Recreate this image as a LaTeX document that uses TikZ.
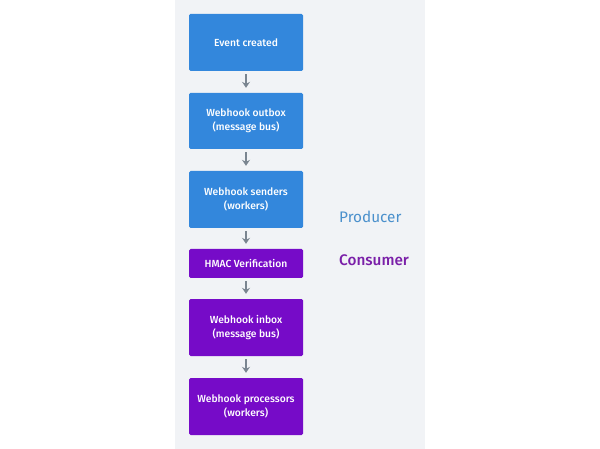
\documentclass[tikz,border=0pt]{standalone}
\usepackage{fontspec}
\setmainfont{Fira Sans}[BoldFont={Fira Sans Medium}]
\usetikzlibrary{arrows.meta}
\usepackage{xcolor}
\definecolor{panelgray}{HTML}{F1F3F6}
\definecolor{prodblue}{HTML}{3387DC}
\definecolor{consviolet}{HTML}{760BC8}
\definecolor{arrowgray}{HTML}{7A8590}
\definecolor{prodtext}{HTML}{4A90CC}
\definecolor{constext}{HTML}{7A1FA8}

\tikzset{
  stepbox/.style={rounded corners=1.5pt, minimum width=114pt, align=center,
    text=white, font=\fontsize{10.3}{14}\selectfont\bfseries, inner sep=0pt},
  prodbox/.style={stepbox, fill=prodblue, minimum height=57pt},
  consbox/.style={stepbox, fill=consviolet, minimum height=57pt},
  flow/.style={arrowgray, line width=2pt, -{Stealth[length=6pt,width=8pt]},
    shorten <=3pt, shorten >=5pt},
}

\begin{document}
\begin{tikzpicture}[x=1pt, y=-1pt]
\useasboundingbox (0,0) rectangle (600,449);
\fill[panelgray] (175,0) rectangle (425,449);
% producer side
\node[prodbox] (event) at (246,42.5) {Event created};
\node[prodbox, minimum height=56pt] (outbox) at (246,121) {Webhook outbox\\(message bus)};
\node[prodbox] (senders) at (246,199.5) {Webhook senders\\(workers)};
% consumer side
\node[consbox, minimum height=29pt] (hmac) at (246,263.5) {HMAC Verification};
\node[consbox] (inbox) at (246,327.5) {Webhook inbox\\(message bus)};
\node[consbox] (procs) at (246,406.5) {Webhook processors\\(workers)};
\draw[flow] (event) -- (outbox);
\draw[flow] (outbox) -- (senders);
\draw[flow] (senders) -- (hmac);
\draw[flow] (hmac) -- (inbox);
\draw[flow] (inbox) -- (procs);
\node[anchor=west, text=prodtext, font=\fontsize{15.3}{18}\selectfont, inner sep=0pt] (producer) at (339,217) {Producer};
\node[anchor=west, text=constext, font=\fontsize{15.3}{18}\selectfont\bfseries, inner sep=0pt] (consumer) at (339,260) {Consumer};
\end{tikzpicture}
\end{document}
